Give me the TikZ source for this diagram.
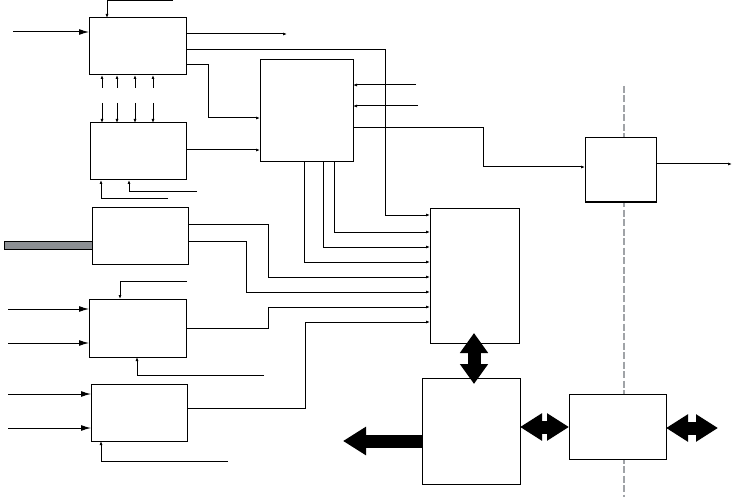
\documentclass[tikz,border=0pt]{standalone}
\usetikzlibrary{arrows.meta}
\definecolor{barfill}{RGB}{140,143,147}
\definecolor{sepgray}{RGB}{160,163,167}
\begin{document}
\begin{tikzpicture}[x=1pt,y=-1pt,line join=miter,
  blk/.style={draw,fill=white,line width=1pt,outer sep=0pt,inner sep=0pt},
  wire/.style={line width=1pt},
  sarr/.style={wire,-{Latex[length=4pt,width=3pt]}},
  barr/.style={wire,-{Latex[length=10pt,width=6pt]}},
  fat/.style={line width=13pt,black}]
  \useasboundingbox (0,0) rectangle (733,497);
  % separation line
  \draw[sepgray,line width=1.8pt,dash pattern=on 7pt off 2.5pt] (624,86) -- (624,497);
  % blocks
  \node[blk,minimum width=97pt,minimum height=57pt]  (A) at (137.5,46.5) {};
  \node[blk,minimum width=96pt,minimum height=57pt]  (B) at (138,151.5) {};
  \node[blk,minimum width=93pt,minimum height=102pt] (C) at (306.5,111) {};
  \node[blk,minimum width=89pt,minimum height=135pt] (D) at (474.5,275.5) {};
  \node[blk,minimum width=71pt,minimum height=64pt]  (E) at (620.5,170) {};
  \node[blk,minimum width=96pt,minimum height=57pt]  (F) at (140,235.5) {};
  \node[blk,minimum width=97pt,minimum height=58pt]  (G) at (137.5,328) {};
  \node[blk,minimum width=96pt,minimum height=57pt]  (H) at (139,412.5) {};
  \node[blk,minimum width=98pt,minimum height=106pt] (I) at (471,431) {};
  \node[blk,minimum width=97pt,minimum height=65pt]  (J) at (617.5,426.5) {};
  % block A
  \draw[barr] (13,32) -- (A.west |- 0,32);
  \draw[sarr] (173,1) -| (A.north -| 107,0);
  \draw[sarr] (A.east |- 0,34) -- (287,34);
  \draw[sarr] (A.east |- 0,50) -| (385,215) -- (D.west |- 0,215);
  \draw[sarr] (A.east |- 0,65) -| (208,118) -- (C.west |- 0,118);
  \foreach \x in {102,117,135,153} {
    \draw[sarr] (\x,88) -- (A.south -| \x,0);
    \draw[sarr] (\x,103) -- (B.north -| \x,0);
  }
  % block B
  \draw[sarr] (B.east |- 0,150) -- (C.west |- 0,150);
  \draw[sarr] (168,199) -| (B.south -| 101,0);
  \draw[sarr] (197,192) -| (B.south -| 129,0);
  % block C
  \draw[sarr] (416,85) -- (C.east |- 0,85);
  \draw[sarr] (418,106) -- (C.east |- 0,106);
  \draw[sarr] (C.east |- 0,128) -| (483,167) -- (E.west |- 0,167);
  \draw[sarr] (C.south -| 334,0) |- (D.west |- 0,232);
  \draw[sarr] (C.south -| 323,0) |- (D.west |- 0,247);
  \draw[sarr] (C.south -| 304,0) |- (D.west |- 0,262);
  % block E
  \draw[sarr] (E.east |- 0,164) -- (732,164);
  % block F
  \draw[fill=barfill,line width=0.6pt] (4,241) rectangle (F.west |- 0,249);
  \draw[sarr] (F.east |- 0,224) -| (268,277) -- (D.west |- 0,277);
  \draw[sarr] (F.east |- 0,241) -| (246,292) -- (D.west |- 0,292);
  % block G
  \draw[barr] (8,309) -- (G.west |- 0,309);
  \draw[barr] (8,343) -- (G.west |- 0,343);
  \draw[sarr] (187,281) -| (G.north -| 120,0);
  \draw[sarr] (264,375) -| (G.south -| 137,0);
  \draw[sarr] (G.east |- 0,328) -| (268,307) -- (D.west |- 0,307);
  % block H
  \draw[barr] (8,394) -- (H.west |- 0,394);
  \draw[barr] (8,428) -- (H.west |- 0,428);
  \draw[sarr] (228,461) -| (H.south -| 101,0);
  \draw[sarr] (H.east |- 0,408) -| (305,322) -- (D.west |- 0,322);
  % bus arrows
  \draw[fat,{Triangle[length=20pt,width=27pt]}-{Triangle[length=20pt,width=27pt]}] (474,333) -- (474,384);
  \draw[fat,{Triangle[length=22pt,width=26pt]}-{Triangle[length=22pt,width=26pt]}] (I.east |- 0,427) -- (J.west |- 0,427);
  \draw[fat,{Triangle[length=22pt,width=26pt]}-{Triangle[length=22pt,width=26pt]}] (J.east |- 0,428) -- (718,428);
  \draw[fat,-{Triangle[length=23pt,width=27pt]}] (I.west |- 0,441) -- (343,441);
\end{tikzpicture}
\end{document}
